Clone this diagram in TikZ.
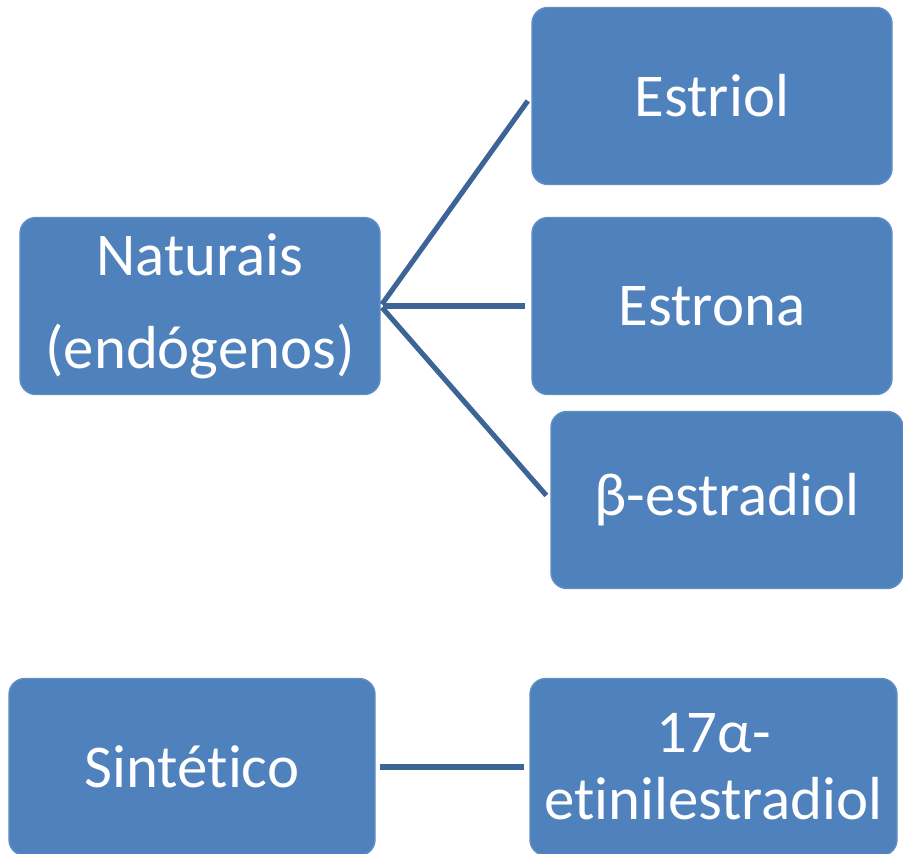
\documentclass[tikz,border=0pt]{standalone}
\usepackage{fontspec}
\setmainfont[Ligatures=NoCommon]{Carlito}
\usepackage{tikz}
\usetikzlibrary{positioning}
\definecolor{boxblue}{HTML}{4F81BD}
\definecolor{linkblue}{HTML}{3C6496}

\begin{document}
\begin{tikzpicture}[
  box/.style={fill=boxblue, draw=boxblue!90!white, rounded corners=4.5pt, minimum width=3.6cm, minimum height=1.77cm, align=center, text=white, font=\fontsize{17.3}{19}\selectfont},
  link/.style={draw=linkblue, line width=1.45pt, shorten <=0.02cm, shorten >=0.06cm}
]

\useasboundingbox (0,0) rectangle (9.03,8.54);
\clip (0,0) rectangle (9.03,8.54);

% === Naturais ===
\node[box, font=\fontsize{17.3}{26.4}\selectfont] (nat) at (2.00, 5.48) {Naturais\\(endógenos)};

\node[box] (estriol) at (7.12, 7.58) {Estriol};
\node[box] (estrona) at (7.12, 5.48) {Estrona};
\node[box, minimum width=3.52cm] (estradiol) at (7.27, 3.54) {β-estradiol};

\draw[link] (nat.east) -- (estriol.west);
\draw[link] (nat.east) -- (estrona.west);
\draw[link] (nat.east) -- (estradiol.west);

% === Sintético ===
\node[box, minimum width=3.66cm] (sint) at (1.92, 0.87) {Sintético};
\node[box, minimum width=3.67cm] (etinil) at (7.135, 0.87) {17α-\\etinilestradiol};

\draw[link, shorten <=0.04cm, shorten >=0.05cm] (sint) -- (etinil);

\end{tikzpicture}
\end{document}
